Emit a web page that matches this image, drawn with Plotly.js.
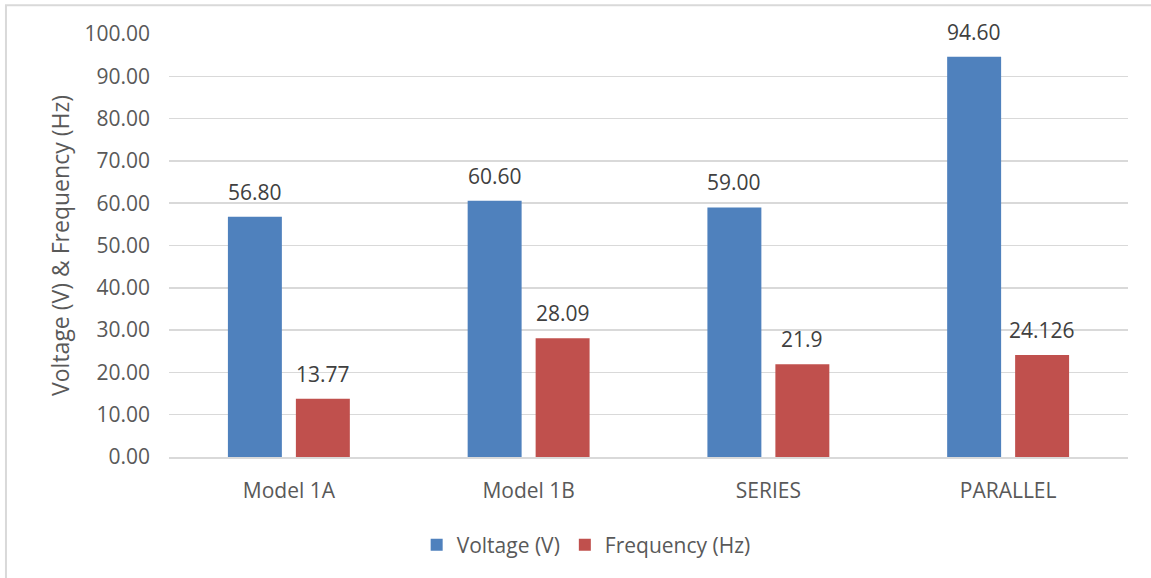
<!DOCTYPE html>
<html>
<head>
<meta charset="utf-8">
<script src="https://cdn.plot.ly/plotly-3.0.1.min.js"></script>
<style>html,body{margin:0;padding:0;background:#fff;}#chart{width:1151px;height:578px;}</style>
</head>
<body>
<div id="chart"></div>
<script>
var categories = ["Model 1A", "Model 1B", "SERIES", "PARALLEL"];
var voltage = [56.80, 60.60, 59.00, 94.60];
var voltageLabels = ["56.80", "60.60", "59.00", "94.60"];
var frequency = [13.77, 28.09, 21.9, 24.126];
var frequencyLabels = ["13.77", "28.09", "21.9", "24.126"];
var yTicks = [0, 10, 20, 30, 40, 50, 60, 70, 80, 90, 100];
var yTickLabels = ["0.00", "10.00", "20.00", "30.00", "40.00", "50.00", "60.00", "70.00", "80.00", "90.00", "100.00"];

var fontFam = "Open Sans, Lato, sans-serif";
var labelFont = {family: fontFam, size: 21, color: "#404040"};

var traces = [
  {type: "bar", name: "Voltage (V)", x: categories, y: voltage,
   marker: {color: "#4f81bd"}, hoverinfo: "none"},
  {type: "bar", name: "Frequency (Hz)", x: categories, y: frequency,
   marker: {color: "#c0504d"}, hoverinfo: "none"}
];

var annotations = [];
function addLabels(vals, labels, shift) {
  for (var i = 0; i < categories.length; i++) {
    annotations.push({x: categories[i], y: vals[i], xref: "x", yref: "y",
      text: labels[i], showarrow: false, xshift: shift, yshift: 9,
      xanchor: "center", yanchor: "bottom", font: labelFont});
  }
}
addLabels(voltage, voltageLabels, -34);
addLabels(frequency, frequencyLabels, 34);

var layout = {
  width: 1151, height: 578,
  margin: {l: 169, r: 23, t: 34, b: 119},
  paper_bgcolor: "#ffffff", plot_bgcolor: "#ffffff",
  barmode: "group", bargap: 0.433, bargroupgap: 0.206,
  font: {family: fontFam, color: "#595959", size: 21},
  xaxis: {showgrid: false, showline: true, linecolor: "#d9d9d9", linewidth: 2,
          ticks: "", ticklabelstandoff: 14, tickfont: {family: fontFam, size: 21, color: "#595959"}, zeroline: false},
  yaxis: {range: [0, 100], tickvals: yTicks, ticktext: yTickLabels, showgrid: true,
          gridcolor: "#d9d9d9", gridwidth: 1.5, zeroline: false, showline: false,
          ticks: "", ticklen: 0, ticklabelstandoff: 18, tickfont: {family: fontFam, size: 21, color: "#595959"},
          title: {text: "Voltage (V) & Frequency (Hz)", font: {family: fontFam, size: 23, color: "#595959"}, standoff: 8}},
  annotations: annotations,
  showlegend: true,
  legend: {orientation: "h", x: 0.435, xanchor: "center", y: -0.16, yanchor: "top",
           font: {family: fontFam, size: 21, color: "#595959"}, traceorder: "normal"},
  shapes: [{type: "rect", xref: "paper", yref: "paper",
            x0: -0.170, x1: 1.05, y0: -0.35, y1: 1.068,
            line: {color: "#d9d9d9", width: 2}, fillcolor: "rgba(0,0,0,0)", layer: "below"}]
};

Plotly.newPlot("chart", traces, layout, {displayModeBar: false, staticPlot: true});
</script>
</body>
</html>
